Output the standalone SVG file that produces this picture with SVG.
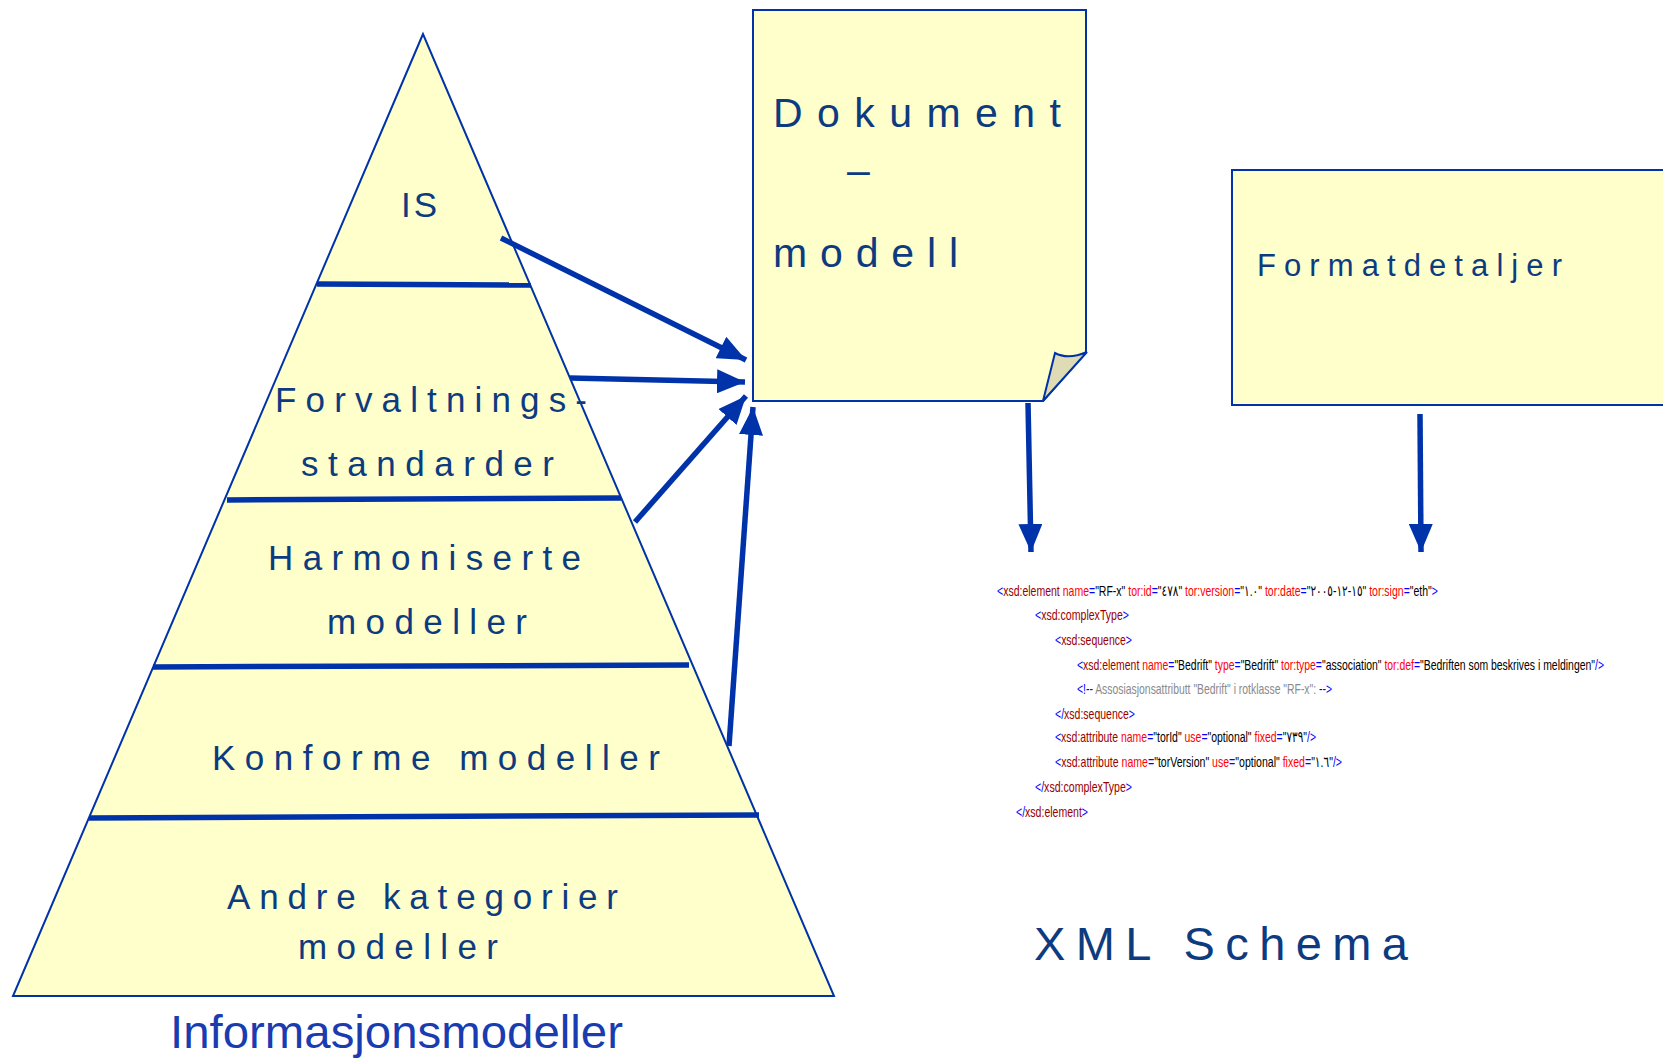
<svg xmlns="http://www.w3.org/2000/svg" width="1663" height="1059" viewBox="0 0 1663 1059">
<style>
.shape{fill:#FFFFCC;stroke:#0033A8;stroke-width:2}
.band{stroke:#0033AA;stroke-width:5.5;fill:none}
.lbl{font-family:"Liberation Sans",Arial,sans-serif;fill:#0D3B80}
.pl{font-size:35px}
.big{font-size:41px}
.conn{stroke:#0033AA;stroke-width:5.5;fill:none}
.xml{font-family:"Liberation Sans",Arial,"DejaVu Sans",sans-serif;font-size:15px;fill:#000;direction:ltr;unicode-bidi:bidi-override}
.b{fill:#0000FF}.t{fill:#990000}.a{fill:#FF0000}.c{fill:#8A8A8A}
</style>
<defs>
<marker id="ah" markerUnits="userSpaceOnUse" markerWidth="30" markerHeight="24" refX="28" refY="12" orient="auto">
<path d="M0,0 L28,12 L0,24 Z" fill="#0033AA"/>
</marker>
</defs>
<rect width="1663" height="1059" fill="#FFFFFF"/>

<g id="pyramid">
<polygon class="shape" points="423,34 13,996 834,996"/>
<path class="band" d="M317,284 L531,285"/>
<path class="band" d="M227,500 L621,498"/>
<path class="band" d="M153,667 L689,665"/>
<path class="band" d="M89,818 L759,815"/>
</g>
<g id="label-is"><text class="lbl pl" x="401" y="217" textLength="36" lengthAdjust="spacing">IS</text></g>
<g id="label-forvaltning">
<text class="lbl pl" x="275" y="412" textLength="312" lengthAdjust="spacing">Forvaltnings-</text>
<text class="lbl pl" x="301" y="476" textLength="253" lengthAdjust="spacing">standarder</text>
</g>
<g id="label-harmoniserte">
<text class="lbl pl" x="268" y="570" textLength="313" lengthAdjust="spacing">Harmoniserte</text>
<text class="lbl pl" x="327" y="634" textLength="200" lengthAdjust="spacing">modeller</text>
</g>
<g id="label-konforme"><text class="lbl pl" x="212" y="770" textLength="448" lengthAdjust="spacing">Konforme modeller</text></g>
<g id="label-andre">
<text class="lbl pl" x="227" y="909" textLength="391" lengthAdjust="spacing">Andre kategorier</text>
<text class="lbl pl" x="298" y="959" textLength="200" lengthAdjust="spacing">modeller</text>
</g>
<g id="title-informasjonsmodeller"><text x="170" y="1048" font-family="'Liberation Sans',Arial,sans-serif" font-size="47" fill="#1A3CB0" textLength="453" lengthAdjust="spacingAndGlyphs">Informasjonsmodeller</text></g>

<g id="dokument-modell">
<path class="shape" d="M753,10 H1086 V352 L1043,401 H753 Z"/>
<path d="M1043,401 L1055,353 Q1068,360 1087,352 Z" fill="#DEDBB5" stroke="#0033A8" stroke-width="2"/>
<text class="lbl big" x="773" y="127" textLength="288" lengthAdjust="spacing">Dokument</text>
<text class="lbl big" x="847" y="184">–</text>
<text class="lbl big" x="773" y="267" textLength="185" lengthAdjust="spacing">modell</text>
</g>

<g id="formatdetaljer">
<rect class="shape" x="1232" y="170" width="460" height="235"/>
<text class="lbl" font-size="31" x="1257" y="276" textLength="305" lengthAdjust="spacing">Formatdetaljer</text>
</g>

<g id="connectors">
<line class="conn" x1="501" y1="238" x2="746" y2="360" marker-end="url(#ah)"/>
<line class="conn" x1="570" y1="378" x2="745" y2="382" marker-end="url(#ah)"/>
<line class="conn" x1="635" y1="522" x2="746" y2="396" marker-end="url(#ah)"/>
<line class="conn" x1="729" y1="746" x2="753" y2="407" marker-end="url(#ah)"/>
<line class="conn" x1="1028" y1="403" x2="1031" y2="552" marker-end="url(#ah)"/>
<line class="conn" x1="1420" y1="414" x2="1421" y2="552" marker-end="url(#ah)"/>
</g>

<g id="xml-code">
<text class="xml" x="997" y="596" textLength="441" lengthAdjust="spacingAndGlyphs"><tspan class="b">&lt;</tspan><tspan class="t">xsd:element</tspan> <tspan class="a">name</tspan><tspan class="b">=</tspan>"RF-x" <tspan class="a">tor:id</tspan><tspan class="b">=</tspan>"٤٧٨" <tspan class="a">tor:version</tspan><tspan class="b">=</tspan>"١.٠" <tspan class="a">tor:date</tspan><tspan class="b">=</tspan>"٢٠٠٥-١٢-١٥" <tspan class="a">tor:sign</tspan><tspan class="b">=</tspan>"eth"<tspan class="b">&gt;</tspan></text>
<text class="xml" x="1035" y="620" textLength="94" lengthAdjust="spacingAndGlyphs"><tspan class="b">&lt;</tspan><tspan class="t">xsd:complexType</tspan><tspan class="b">&gt;</tspan></text>
<text class="xml" x="1055" y="645" textLength="77" lengthAdjust="spacingAndGlyphs"><tspan class="b">&lt;</tspan><tspan class="t">xsd:sequence</tspan><tspan class="b">&gt;</tspan></text>
<text class="xml" x="1077" y="670" textLength="527" lengthAdjust="spacingAndGlyphs"><tspan class="b">&lt;</tspan><tspan class="t">xsd:element</tspan> <tspan class="a">name</tspan><tspan class="b">=</tspan>"Bedrift" <tspan class="a">type</tspan><tspan class="b">=</tspan>"Bedrift" <tspan class="a">tor:type</tspan><tspan class="b">=</tspan>"association" <tspan class="a">tor:def</tspan><tspan class="b">=</tspan>"Bedriften som beskrives i meldingen"<tspan class="b">/&gt;</tspan></text>
<text class="xml" x="1077" y="694" textLength="255" lengthAdjust="spacingAndGlyphs"><tspan class="b">&lt;!--</tspan><tspan class="c"> Assosiasjonsattributt "Bedrift" i rotklasse "RF-x": </tspan><tspan class="b">--&gt;</tspan></text>
<text class="xml" x="1055" y="719" textLength="80" lengthAdjust="spacingAndGlyphs"><tspan class="b">&lt;/</tspan><tspan class="t">xsd:sequence</tspan><tspan class="b">&gt;</tspan></text>
<text class="xml" x="1055" y="742" textLength="261" lengthAdjust="spacingAndGlyphs"><tspan class="b">&lt;</tspan><tspan class="t">xsd:attribute</tspan> <tspan class="a">name</tspan><tspan class="b">=</tspan>"torId" <tspan class="a">use</tspan><tspan class="b">=</tspan>"optional" <tspan class="a">fixed</tspan><tspan class="b">=</tspan>"٧٣٩"<tspan class="b">/&gt;</tspan></text>
<text class="xml" x="1055" y="767" textLength="287" lengthAdjust="spacingAndGlyphs"><tspan class="b">&lt;</tspan><tspan class="t">xsd:attribute</tspan> <tspan class="a">name</tspan><tspan class="b">=</tspan>"torVersion" <tspan class="a">use</tspan><tspan class="b">=</tspan>"optional" <tspan class="a">fixed</tspan><tspan class="b">=</tspan>"١.٦"<tspan class="b">/&gt;</tspan></text>
<text class="xml" x="1035" y="792" textLength="97" lengthAdjust="spacingAndGlyphs"><tspan class="b">&lt;/</tspan><tspan class="t">xsd:complexType</tspan><tspan class="b">&gt;</tspan></text>
<text class="xml" x="1016" y="817" textLength="72" lengthAdjust="spacingAndGlyphs"><tspan class="b">&lt;/</tspan><tspan class="t">xsd:element</tspan><tspan class="b">&gt;</tspan></text>
</g>

<g id="label-xml-schema"><text class="lbl" font-size="47" x="1034" y="960" textLength="374" lengthAdjust="spacing">XML Schema</text></g>
</svg>
